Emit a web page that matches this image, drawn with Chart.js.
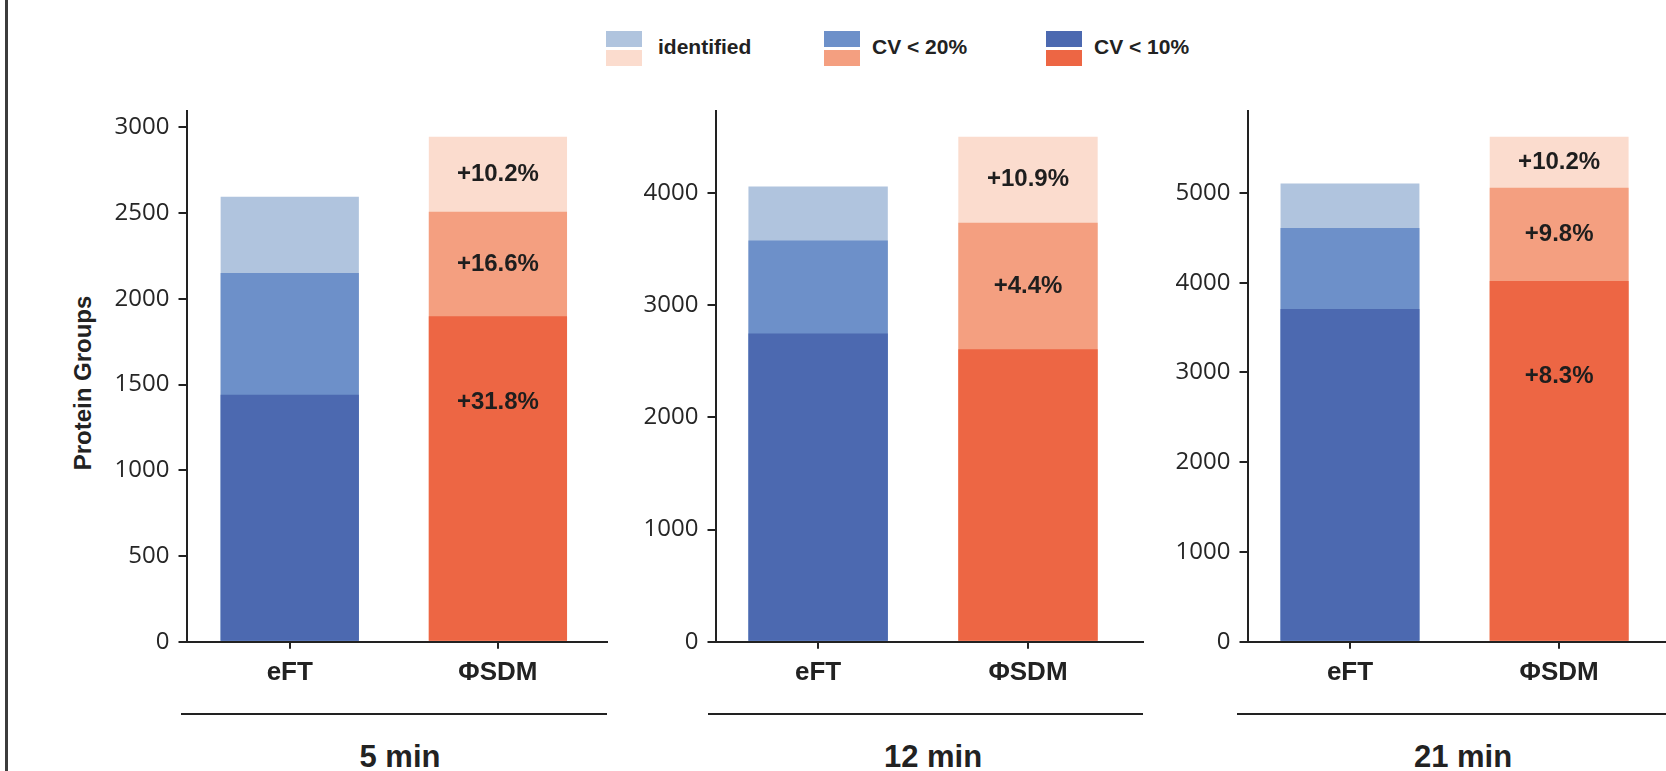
<!DOCTYPE html>
<html>
<head>
<meta charset="utf-8">
<title>Protein Groups by gradient length</title>
<script src="https://cdn.jsdelivr.net/npm/chart.js@4.4.1/dist/chart.umd.min.js"></script>
<style>
  html, body { margin: 0; padding: 0; background: #fff; }
  body { width: 1666px; height: 771px; position: relative; overflow: hidden;
         font-family: "Liberation Sans", Arial, sans-serif; color: #222; }
  canvas { position: absolute; }
  .frame { position: absolute; left: 5px; top: 0; width: 3px; height: 771px; background: #3c3c3c; }
  .swatch { position: absolute; width: 36px; height: 16px; }
  .legend-text { position: absolute; top: 35px; font-weight: bold; font-size: 21px; line-height: 24px; white-space: nowrap; color: #222; }
  .group-line { position: absolute; top: 712.5px; height: 2px; background: #222; }
  .group-label { position: absolute; top: 741px; font-weight: bold; font-size: 31px; line-height: 31px;
                 white-space: nowrap; transform: translateX(-50%); color: #222; }
  .y-title { position: absolute; left: 83.3px; top: 382.5px; font-weight: bold; font-size: 24px; line-height: 24px;
             white-space: nowrap; color: #222; transform: translate(-50%, -50%) rotate(-90deg); }
</style>
</head>
<body>
<div class="frame"></div>

<!-- legend: each entry shows the eFT colour above the ΦSDM colour -->
<div class="swatch" style="left:606px;top:31px;background:#B0C4DE"></div>
<div class="swatch" style="left:606px;top:50px;background:#FBDCCE"></div>
<div class="legend-text" style="left:658px">identified</div>
<div class="swatch" style="left:824px;top:31px;background:#6D90C9"></div>
<div class="swatch" style="left:824px;top:50px;background:#F49F80"></div>
<div class="legend-text" style="left:872px">CV &lt; 20%</div>
<div class="swatch" style="left:1046px;top:31px;background:#4C69B0"></div>
<div class="swatch" style="left:1046px;top:50px;background:#ED6644"></div>
<div class="legend-text" style="left:1094px">CV &lt; 10%</div>

<div class="y-title">Protein Groups</div>

<canvas id="panel0" width="580" height="610" style="left:40px;top:100px"></canvas>
<canvas id="panel1" width="540" height="610" style="left:620px;top:100px"></canvas>
<canvas id="panel2" width="560" height="610" style="left:1160px;top:100px"></canvas>

<div class="group-line" style="left:181px;width:426px"></div>
<div class="group-line" style="left:708px;width:435px"></div>
<div class="group-line" style="left:1237px;width:440px"></div>
<div class="group-label" id="glabel0" style="left:400px"></div>
<div class="group-label" id="glabel1" style="left:933px"></div>
<div class="group-label" id="glabel2" style="left:1463px"></div>

<script>
// Gradient lengths (one panel each) and the two acquisition methods
const timeGroups = ['5 min', '12 min', '21 min'];
const methods = ['eFT', 'ΦSDM'];

// Protein groups per panel (index = panel)
const identifiedEFT = [2595, 4057, 5105];
const identifiedSDM = [2945, 4500, 5625];
const cv20EFT = [2151, 3575, 4608];
const cv20SDM = [2507, 3733, 5058];
const cv10EFT = [1440, 2746, 3706];
const cv10SDM = [1898, 2606, 4018];

// Relative gain of ΦSDM over eFT written on the ΦSDM bar
const gainIdentified = ['+10.2%', '+10.9%', '+10.2%'];
const gainCV20 = ['+16.6%', '+4.4%', '+9.8%'];
const gainCV10 = ['+31.8%', '', '+8.3%'];

// Y tick spacing per panel
const yTickSteps = [500, 1000, 1000];

const COLORS = {
  eft: { identified: '#B0C4DE', cv20: '#6D90C9', cv10: '#4C69B0' },
  sdm: { identified: '#FBDCCE', cv20: '#F49F80', cv10: '#ED6644' }
};
const INK = '#222222';

// Canvas geometry: width of the y-axis box, right padding, and the x range of each panel
const LAYOUT = [
  { yAxisWidth: 146.5, padRight: 13, xMin: -0.496, xMax: 1.524 },
  { yAxisWidth: 95.5,  padRight: 17, xMin: -0.489, xMax: 1.548 },
  { yAxisWidth: 87.5,  padRight: 50, xMin: -0.490, xMax: 1.530 }
];

// Writes the gain percentages on the ΦSDM segments
const gainLabelPlugin = {
  id: 'gainLabels',
  afterDatasetsDraw(chart, args, opts) {
    const p = opts.panel;
    const { ctx, scales: { x, y } } = chart;
    const segments = [
      { text: gainCV10[p], lo: 0, hi: cv10SDM[p], frac: 0.735 },
      { text: gainCV20[p], lo: cv10SDM[p], hi: cv20SDM[p], frac: 0.5 },
      { text: gainIdentified[p], lo: cv20SDM[p], hi: identifiedSDM[p], frac: 0.5 }
    ];
    const cx = x.getPixelForValue(1);
    ctx.save();
    ctx.font = 'bold 24px "Liberation Sans", Arial, sans-serif';
    ctx.fillStyle = '#1e1e1e';
    ctx.textAlign = 'center';
    ctx.textBaseline = 'middle';
    for (const s of segments) {
      if (!s.text) continue;
      const v = s.lo + (s.hi - s.lo) * s.frac;
      ctx.fillText(s.text, cx, y.getPixelForValue(v));
    }
    ctx.restore();
  }
};

function points(eft, sdm, p) {
  return [{ x: 0, y: eft[p] }, { x: 1, y: sdm[p] }];
}

function makePanel(p) {
  const lay = LAYOUT[p];
  const yMax = Math.max(identifiedEFT[p], identifiedSDM[p]) * 1.052;
  const step = yTickSteps[p];
  const barCommon = { grouped: false, categoryPercentage: 1, barPercentage: 0.664, borderWidth: 0 };
  return new Chart(document.getElementById('panel' + p), {
    type: 'bar',
    data: {
      datasets: [
        // first dataset is painted last, so the smallest subset sits on top
        Object.assign({ label: 'CV < 10%', data: points(cv10EFT, cv10SDM, p),
          backgroundColor: [COLORS.eft.cv10, COLORS.sdm.cv10] }, barCommon),
        Object.assign({ label: 'CV < 20%', data: points(cv20EFT, cv20SDM, p),
          backgroundColor: [COLORS.eft.cv20, COLORS.sdm.cv20] }, barCommon),
        Object.assign({ label: 'identified', data: points(identifiedEFT, identifiedSDM, p),
          backgroundColor: [COLORS.eft.identified, COLORS.sdm.identified] }, barCommon)
      ]
    },
    options: {
      responsive: false,
      animation: false,
      devicePixelRatio: 1,
      layout: { padding: { top: 10.5, right: lay.padRight, bottom: 0, left: 0 } },
      plugins: {
        legend: { display: false },
        tooltip: { enabled: false },
        gainLabels: { panel: p }
      },
      scales: {
        x: {
          type: 'linear',
          min: lay.xMin,
          max: lay.xMax,
          offset: false,
          afterBuildTicks: (s) => { s.ticks = methods.map((m, i) => ({ value: i })); },
          afterFit: (s) => { s.height = 68.2; s.paddingLeft = 0; s.paddingRight = 0; },
          grid: { drawOnChartArea: false, drawTicks: true, tickLength: 7, lineWidth: 2, color: INK, offset: false },
          border: { display: true, color: INK, width: 2 },
          ticks: {
            autoSkip: false,
            maxRotation: 0,
            padding: 8,
            color: INK,
            font: { family: '"Liberation Sans", Arial, sans-serif', size: 26, weight: 'bold' },
            callback: (v) => methods[v] ?? ''
          }
        },
        y: {
          min: 0,
          max: yMax,
          afterBuildTicks: (s) => {
            const ticks = [];
            for (let v = 0; v <= s.max; v += step) ticks.push({ value: v });
            s.ticks = ticks;
          },
          afterFit: (s) => { s.width = lay.yAxisWidth; s.paddingTop = 0; s.paddingBottom = 0; },
          grid: { drawOnChartArea: false, drawTicks: true, tickLength: 8, lineWidth: 2, color: INK },
          border: { display: true, color: INK, width: 2 },
          ticks: {
            padding: 9,
            color: '#262626',
            font: { family: '"Open Sans", "Noto Sans", sans-serif', size: 24 },
            callback: (v) => String(v)
          }
        }
      }
    },
    plugins: [gainLabelPlugin]
  });
}

timeGroups.forEach((g, p) => {
  document.getElementById('glabel' + p).textContent = g;
  makePanel(p);
});
</script>
</body>
</html>
